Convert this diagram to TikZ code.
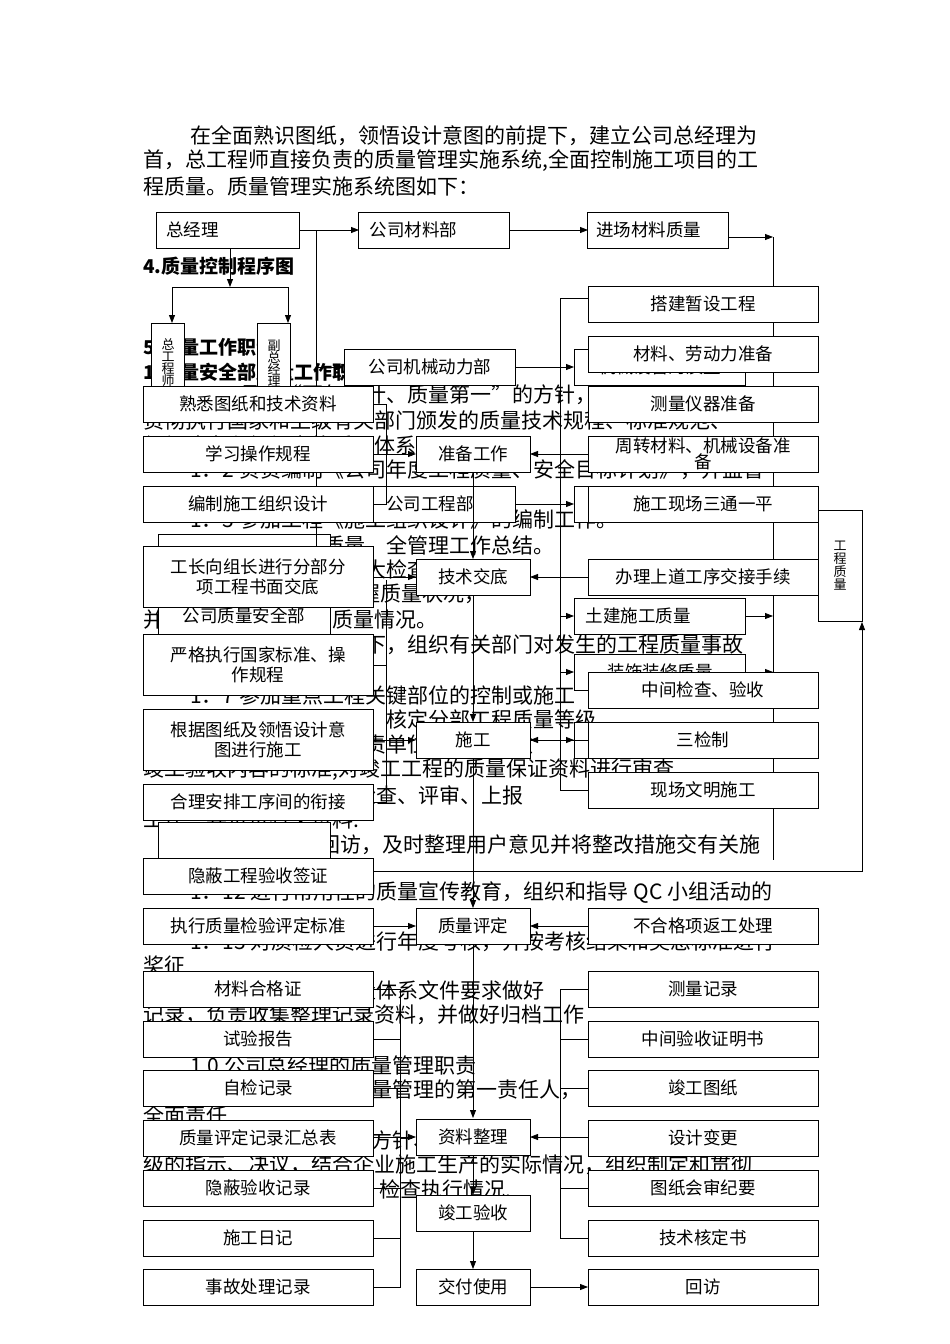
\documentclass[tikz,border=0pt]{standalone}
\usepackage{fontspec}
\setmainfont{Noto Sans CJK SC}
\usetikzlibrary{arrows.meta}
\begin{document}
\begin{tikzpicture}[x=1pt,y=-1pt,
  box/.style={draw,fill=white,line width=0.8pt,inner sep=1pt,align=center,font=\fontsize{17.5}{20}\selectfont},
  wide/.style={box,minimum width=230,minimum height=36,text width=222},
  mid/.style={box,minimum width=114,minimum height=36},
  hid/.style={box,minimum width=171,minimum height=36},
  vbox/.style={box,minimum width=33,minimum height=80,font=\fontsize{13}{14}\selectfont},
  ln/.style={line width=0.8pt},
  ar/.style={line width=0.8pt,-{Triangle[length=8pt,width=6pt]}},
  bg/.style={anchor=west,inner sep=0,font=\fontsize{21}{24}\selectfont}]
\useasboundingbox (0,0) rectangle (950,1344);
% background text
\node[bg] at (190,136) {在全面熟识图纸，领悟设计意图的前提下，建立公司总经理为};
\node[bg] at (143,161) {首，总工程师直接负责的质量管理实施系统,全面控制施工项目的工};
\node[bg] at (143,186) {程质量。质量管理实施系统图如下：};
\node[bg,font=\fontsize{19}{22}\selectfont\bfseries] at (143,266) {4.质量控制程序图};
\node[bg,font=\fontsize{19}{22}\selectfont\bfseries] at (143,347) {5.质量工作职责};
\node[bg,font=\fontsize{19}{22}\selectfont\bfseries] at (143,372) {1.质量安全部质量工作职责};
\node[bg] at (190,395) {1．1 贯彻“百年大计、质量第一”的方针，认真};
\node[bg] at (143,420) {贯彻执行国家和上级有关部门颁发的质量技术规程、标准规范、};
\node[bg] at (143,445) {组织建立和组织实施质量体系};
\node[bg] at (190,470) {1．2 负责编制《公司年度工程质量、安全目标计划》，并监督};
\node[bg] at (190,520) {1．3 参加工程《施工组织设计》的编制工作。};
\node[bg] at (190,545) {1．4 负责年度质量、全管理工作总结。};
\node[bg] at (190,570) {1．5 组织定期质量大检查，};
\node[bg] at (143,595) {检查,实行动态管理，掌握质量状况，};
\node[bg] at (143,620) {并及时向上报告有关质量情况。};
\node[bg] at (190,645) {1．6 在总经理主持下，组织有关部门对发生的工程质量事故};
\node[bg] at (143,670) {进行调查处理和上报.};
\node[bg] at (190,695) {1．7 参加重点工程关键部位的控制或施工};
\node[bg] at (190,720) {1．8 负责抽查复评，核定分部工程质量等级};
\node[bg] at (190,745) {1．9 参加验收，负责单位工程的验收};
\node[bg] at (143,770) {竣工验收内容的标准,对竣工工程的质量保证资料进行审查};
\node[bg] at (190,795) {1．10 负责工程的检查、评审、上报};
\node[bg] at (143,820) {工作，并负责有关资料.};
\node[bg] at (190,845) {1.11 工程组织回访，及时整理用户意见并将整改措施交有关施};
\node[bg] at (190,893) {1．12 进行常用性的质量宣传教育，组织和指导 QC 小组活动的};
\node[bg] at (190,942) {1．13 对质检人员进行年度考核，并按考核结果和奖惩标准进行};
\node[bg] at (143,965) {奖征};
\node[bg] at (190,990) {1．14 按标准及质量体系文件要求做好};
\node[bg] at (143,1015) {记录，负责收集整理记录资料，并做好归档工作};
\node[bg,font=\fontsize{19}{22}\selectfont\bfseries] at (143,1040) {2.质量管理职责};
\node[bg] at (190,1065) {1.0 公司总经理的质量管理职责};
\node[bg] at (190,1090) {1.1 公司总经理是质量管理的第一责任人，};
\node[bg] at (143,1115) {全面责任};
\node[bg] at (190,1140) {1.2 贯彻国家的质量方针、政策和上};
\node[bg] at (143,1165) {级的指示、决议，结合企业施工生产的实际情况，组织制定和贯彻};
\node[bg] at (190,1190) {质量方针，并监督、检查执行情况.};
% hidden boxes
\node[vbox] (zgcs) at (168,363) {总\\[-2pt]工\\[-2pt]程\\[-2pt]师};
\node[vbox] (fzjl) at (274,363) {副\\[-2pt]总\\[-2pt]经\\[-2pt]理};
\node[hid] (jxzl) at (660,367) {机械设备的质量};
\node[hid] (gcb) at (430,504) {公司工程部};
\node[hid] (aq) at (660,504) {安全生产};
\node[hid] (zsq) at (660,672) {装饰装修质量};
\node[hid] (azq) at (660,740) {安装施工质量};
\node[box,minimum width=172,minimum height=36] (zlaq) at (244,616) {公司质量安全部};
\node[box,minimum width=172,minimum height=36] at (244,552) {};
\node[box,minimum width=172,minimum height=36] at (244,840) {};
% connectors
\draw[ar] (300,230) -- (359,230);
\draw[ln] (316,230) -- (316,598);
\draw[ar] (316,367) -- (344,367);
\draw[ar] (316,504) -- (344,504);
\draw[ar] (230,248) -- (230,287);
\draw[ln] (172,287) -- (288,287);
\draw[ar] (172,287) -- (172,323);
\draw[ar] (288,287) -- (288,323);
\draw[ar] (510,230) -- (588,230);
\draw[ar] (729,237) -- (773,237);
\draw[ln] (773,237) -- (773,860);
\draw[ar] (515,367) -- (574,367);
\draw[ar] (515,504) -- (574,504);
\draw[ar] (745,367) -- (773,367);
\draw[ar] (745,616) -- (773,616);
\draw[ar] (745,672) -- (773,672);
\draw[ar] (773,575) -- (818,575);
\draw[ln] (560,298) -- (588,298) (560,298) -- (560,790) -- (588,790);
\draw[ar] (560,616) -- (574,616);
\draw[ar] (560,672) -- (574,672);
\draw[ln] (373,871) -- (862,871) -- (862,640);
\draw[ar] (862,640) -- (862,622);
% left groups
\draw[ln] (373,404) -- (386,404) -- (386,504) -- (373,504);
\draw[ar] (373,454) -- (416,454);
\draw[ar] (373,577) -- (416,577);
\draw[ln] (373,665) -- (386,665) -- (386,802) -- (373,802);
\draw[ar] (373,740) -- (416,740);
\draw[ln] (386,580) -- (386,665);
\draw[ar] (373,926) -- (416,926);
% right groups to center
\draw[ar] (588,454) -- (530,454);
\draw[ar] (588,577) -- (530,577);
\draw[ar] (588,740) -- (530,740);
\draw[ar] (530,740) -- (574,740);
\draw[ar] (588,926) -- (530,926);
% center chain
\draw[ar] (473,472) -- (473,559);
\draw[ar] (473,596) -- (473,722);
\draw[ar] (473,758) -- (473,908);
\draw[ar] (473,944) -- (473,1118);
\draw[ar] (473,1155) -- (473,1195);
\draw[ar] (473,1231) -- (473,1269);
\draw[ar] (530,1287) -- (588,1287);
% records
\draw[ln] (373,989) -- (400,989) -- (400,1287) -- (373,1287);
\foreach \y in {1039,1088,1188,1238} \draw[ln] (373,\y) -- (400,\y);
\draw[ar] (373,1137) -- (416,1137);
\draw[ln] (588,989) -- (560,989) -- (560,1238) -- (588,1238);
\foreach \y in {1039,1088,1188} \draw[ln] (588,\y) -- (560,\y);
\draw[ar] (588,1137) -- (530,1137);
% main boxes
\node[box,minimum width=143,minimum height=36,text width=135,align=left] (zjl) at (228,230) {\ 总经理};
\node[box,minimum width=151,minimum height=36,text width=140,align=left] (clb) at (434,230) {\ 公司材料部};
\node[box,minimum width=141,minimum height=36,text width=135,align=left] (jc) at (658,230) {\ 进场材料质量};
\node[box,minimum width=171,minimum height=36] (jxb) at (430,367) {公司机械动力部};
\node[wide] (dj) at (703,304) {搭建暂设工程};
\node[wide] (cl) at (703,354) {材料、劳动力准备};
\node[wide] (cl2) at (703,404) {测量仪器准备};
\node[wide,minimum height=36] (zz) at (703,454) {周转材料、机械设备准\\[-4pt]备};
\node[wide] (sg3) at (703,504) {施工现场三通一平};
\node[box,minimum width=44,minimum height=111,font=\fontsize{13}{15}\selectfont] (gczl) at (840,566) {工\\[-2pt]程\\[-2pt]质\\[-2pt]量};
\node[wide] (sx) at (258,404) {熟悉图纸和技术资料};
\node[wide] (xx) at (258,454) {学习操作规程};
\node[wide] (bz) at (258,504) {编制施工组织设计};
\node[mid] (zb) at (473,454) {准备工作};
\node[wide,minimum height=61] (gz) at (258,577) {工长向组长进行分部分\\项工程书面交底};
\node[mid] (js) at (473,577) {技术交底};
\node[wide] (bl) at (703,577) {办理上道工序交接手续};
\node[box,minimum width=171,minimum height=36,text width=160,align=left] (tj) at (660,616) {\ 土建施工质量};
\node[wide,minimum height=61] (yg) at (258,665) {严格执行国家标准、操\\作规程};
\node[wide] (zj) at (703,690) {中间检查、验收};
\node[wide,minimum height=61] (gj) at (258,740) {根据图纸及领悟设计意\\图进行施工};
\node[mid] (sg) at (473,740) {施工};
\node[wide] (sjz) at (703,740) {三检制};
\node[wide] (wm) at (703,790) {现场文明施工};
\node[wide] (hl) at (258,802) {合理安排工序间的衔接};
\node[wide] (yb) at (258,876) {隐蔽工程验收签证};
\node[wide] (zxbz) at (258,926) {执行质量检验评定标准};
\node[mid] (zlpd) at (473,926) {质量评定};
\node[wide] (bhg) at (703,926) {不合格项返工处理};
\node[wide] (r1) at (258,989) {材料合格证};
\node[wide] (r2) at (258,1039) {试验报告};
\node[wide] (r3) at (258,1088) {自检记录};
\node[wide] (r4) at (258,1138) {质量评定记录汇总表};
\node[wide] (r5) at (258,1188) {隐蔽验收记录};
\node[wide] (r6) at (258,1238) {施工日记};
\node[wide] (r7) at (258,1287) {事故处理记录};
\node[wide] (q1) at (703,989) {测量记录};
\node[wide] (q2) at (703,1039) {中间验收证明书};
\node[wide] (q3) at (703,1088) {竣工图纸};
\node[wide] (q4) at (703,1138) {设计变更};
\node[wide] (q5) at (703,1188) {图纸会审纪要};
\node[wide] (q6) at (703,1238) {技术核定书};
\node[wide] (q7) at (703,1287) {回访};
\node[mid] (zlzl) at (473,1137) {资料整理};
\node[mid] (jgys) at (473,1213) {竣工验收};
\node[mid] (jfsy) at (473,1287) {交付使用};
\end{tikzpicture}
\end{document}
